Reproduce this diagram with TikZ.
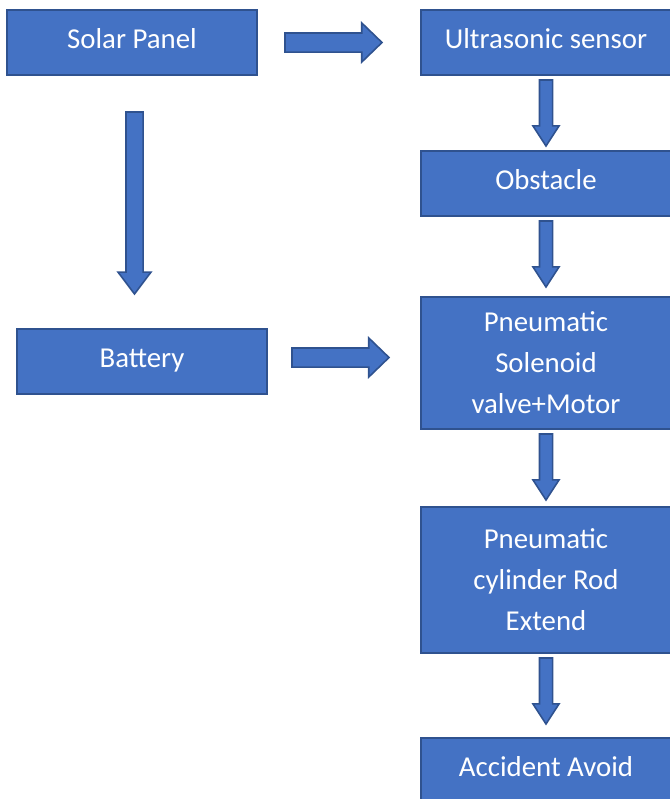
\documentclass[tikz,border=0pt]{standalone}
\usepackage{fontspec}
\setmainfont{Carlito}
\usetikzlibrary{arrows.meta,
                    positioning,
                    shapes.arrows}
\definecolor{boxblue}{HTML}{4472C4}
\definecolor{edgeblue}{HTML}{2F528F}

\begin{document}
\begin{tikzpicture}[
node distance= 1.52cm and 3.28cm,
    block/.style = {draw=edgeblue, fill=boxblue, line width=0.9pt,
                    text=white, align=center, inner sep=0pt, outer sep=0pt,
                    minimum width=5cm, minimum height=1.3cm,
                    font=\fontsize{16.4}{23.3}\selectfont},
    short/.style = {block, text height=10.6pt, text depth=3.4pt},
 fatarrow/.style = {single arrow, draw=edgeblue, fill=boxblue,
                    line width=0.9pt, outer sep=0pt, anchor=tail},
   rarrow/.style = {fatarrow, minimum height=1.94cm, inner sep=0.175cm,
                    single arrow head extend=0.2cm,
                    single arrow tip angle=88},
   sarrow/.style = {fatarrow, shape border rotate=270,
                    minimum height=3.64cm, inner sep=0.155cm,
                    single arrow head extend=0.16cm,
                    single arrow tip angle=74},
   darrow/.style = {fatarrow, shape border rotate=270,
                    minimum height=1.32cm, inner sep=0.115cm,
                    single arrow head extend=0.13cm,
                    single arrow tip angle=66}
                    ]
\useasboundingbox (0,0) rectangle (13.38,-15.98);
 % left side
\node (solar)   [short] at (2.64,-0.85) {Solar Panel};
\node (battery) [short] at (2.84,-7.23) {Battery};
 % right column
\node (ultra)   [short, right=of solar] {Ultrasonic sensor};
\node (obst)    [short, below=of ultra] {Obstacle};
\node (valve)   [block, below=1.62 of obst, minimum height=2.64cm]
                {Pneumatic\\Solenoid\\valve+Motor};
\node (cyl)     [block, below=1.56 of valve, minimum height=2.92cm]
                {Pneumatic\\cylinder Rod\\Extend};
\node (avoid)   [short, below=1.7 of cyl] {Accident Avoid};
 % block arrows
\node (a1) [rarrow] at ([xshift=0.56cm]solar.east) {};
\node (a2) [sarrow] at ([xshift=0.05cm, yshift=-0.74cm]solar.south) {};
\node (a3) [rarrow] at ([xshift=0.5cm, yshift=0.08cm]battery.east) {};
\foreach \from/\name in {ultra/a4, obst/a5, valve/a6, cyl/a7}
  \node (\name) [darrow] at ([yshift=-0.1cm]\from.south) {};
\end{tikzpicture}
\end{document}
